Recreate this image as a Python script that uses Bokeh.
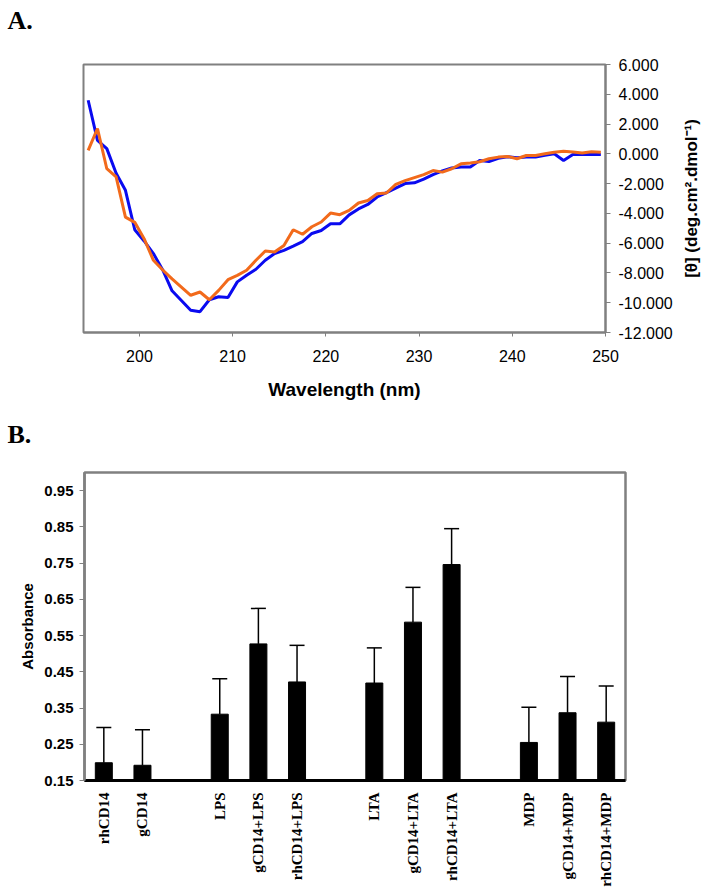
import math
from bokeh.plotting import figure
from bokeh.models import ColumnDataSource, Range1d, FixedTicker, Whisker, TeeHead
from bokeh.layouts import column, row
from bokeh.embed import file_html
from bokeh.resources import INLINE

# ---------------- Panel A data ----------------
wavelength = [194.5, 195.5, 196.5, 197.5, 198.5, 199.5, 200.5, 201.5, 202.5, 203.5,
              204.5, 205.5, 206.5, 207.5, 208.5, 209.5, 210.5, 211.5, 212.5, 213.5,
              214.5, 215.5, 216.5, 217.5, 218.5, 219.5, 220.5, 221.5, 222.5, 223.5,
              224.5, 225.5, 226.5, 227.5, 228.5, 229.5, 230.5, 231.5, 232.5, 233.5,
              234.5, 235.5, 236.5, 237.5, 238.5, 239.5, 240.5, 241.5, 242.5, 243.5,
              244.5, 245.5, 246.5, 247.5, 248.5, 249.5]
blue_series = [3600, 900, 350, -1300, -2450, -5100, -5850, -6700, -7800, -9200,
               -9850, -10500, -10600, -9800, -9600, -9650, -8600, -8150, -7750, -7150,
               -6700, -6480, -6200, -5900, -5350, -5150, -4700, -4700, -4100, -3700,
               -3400, -2900, -2600, -2300, -2000, -1950, -1700, -1400, -1150, -950,
               -890, -890, -450, -520, -300, -200, -260, -220, -220, -100,
               0, -450, -40, -40, -40, -40]
orange_series = [230, 1700, -1000, -1550, -4250, -4600, -5700, -7150, -7800, -8400,
                 -8950, -9500, -9280, -9800, -9170, -8450, -8160, -7820, -7150, -6530,
                 -6590, -6150, -5100, -5400, -4900, -4580, -3980, -4090, -3800, -3300,
                 -3130, -2680, -2630, -2050, -1800, -1600, -1400, -1120, -1230, -1000,
                 -670, -620, -530, -330, -220, -175, -330, -110, -110, 0,
                 110, 180, 120, 50, 140, 100]
x_ticks_a = [200, 210, 220, 230, 240, 250]
y_ticks_a = [-12000, -10000, -8000, -6000, -4000, -2000, 0, 2000, 4000, 6000]
y_tick_labels_a = ["-12.000", "-10.000", "-8.000", "-6.000", "-4.000", "-2.000",
                   "0.000", "2.000", "4.000", "6.000"]

# ---------------- Panel B data ----------------
bar_labels = ["rhCD14", "gCD14", "LPS", "gCD14+LPS", "rhCD14+LPS",
              "LTA", "gCD14+LTA", "rhCD14+LTA", "MDP", "gCD14+MDP", "rhCD14+MDP"]
bar_slots = [0, 1, 3, 4, 5, 7, 8, 9, 11, 12, 13]
absorbance = [0.199, 0.192, 0.333, 0.527, 0.422, 0.419, 0.587, 0.746, 0.255, 0.337, 0.311]
abs_error = [0.097, 0.098, 0.098, 0.098, 0.101, 0.097, 0.096, 0.099, 0.097, 0.100, 0.100]
y_ticks_b = [0.15, 0.25, 0.35, 0.45, 0.55, 0.65, 0.75, 0.85, 0.95]
y_tick_labels_b = ["0.15", "0.25", "0.35", "0.45", "0.55", "0.65", "0.75", "0.85", "0.95"]

SANS = "Liberation Sans"
SERIF = "Liberation Serif"
GREY = "#808080"


def header(text, height, top):
    """A blank strip whose only content is a bold panel letter (as its title)."""
    h = figure(width=719, height=height, output_backend="svg", toolbar_location=None,
               x_range=Range1d(0, 1), y_range=Range1d(0, 1),
               min_border_left=84, min_border_right=0, min_border_top=top, min_border_bottom=0)
    h.outline_line_color = None
    h.background_fill_color = "white"
    h.border_fill_color = "white"
    h.grid.visible = False
    h.axis.visible = False
    h.title.text = text
    h.title.align = "left"
    h.title.offset = -77
    h.title.standoff = 0
    h.title.text_font = SERIF
    h.title.text_font_style = "bold"
    h.title.text_font_size = "26px"
    h.title.text_color = "black"
    return h


hdr_a = header("A.", 40, 34)
hdr_b = header("B.", 44, 36)

# ---------------- Panel A ----------------
pa = figure(width=678, height=372, output_backend="svg", toolbar_location=None,
            x_range=Range1d(194, 250), y_range=Range1d(-12000, 6000),
            y_axis_location="right",
            min_border_left=83, min_border_right=73, min_border_top=24, min_border_bottom=80)
pa.background_fill_color = "white"
pa.border_fill_color = "white"
pa.outline_line_color = GREY
pa.outline_line_width = 2
pa.grid.visible = False

pa.line(wavelength, blue_series, line_color="#0A0AF0", line_width=3)
pa.line(wavelength, orange_series, line_color="#F26A1B", line_width=3)

xa = pa.xaxis[0]
xa.ticker = FixedTicker(ticks=x_ticks_a)
xa.axis_line_color = GREY
xa.axis_line_width = 2
xa.major_tick_line_color = GREY
xa.major_tick_in = 0
xa.major_tick_out = 4
xa.minor_tick_line_color = None
xa.major_label_standoff = 13
xa.major_label_text_font = SANS
xa.major_label_text_font_size = "16px"
xa.major_label_text_color = "black"
xa.axis_label = "Wavelength (nm)"
xa.axis_label_text_font = SANS
xa.axis_label_text_font_style = "bold"
xa.axis_label_text_font_size = "19px"
xa.axis_label_text_color = "black"
xa.axis_label_standoff = 14

ya = pa.yaxis[0]
ya.ticker = FixedTicker(ticks=y_ticks_a)
ya.major_label_overrides = {t: s for t, s in zip(y_ticks_a, y_tick_labels_a)}
ya.axis_line_color = GREY
ya.axis_line_width = 2
ya.major_tick_line_color = GREY
ya.major_tick_in = 0
ya.major_tick_out = 5
ya.minor_tick_line_color = None
ya.major_label_standoff = 8
ya.major_label_text_font = SANS
ya.major_label_text_font_size = "16px"
ya.major_label_text_color = "black"

# Narrow companion figure carrying the rotated right-hand axis title of panel A
pa_lab = figure(width=41, height=372, output_backend="svg", toolbar_location=None,
                x_range=Range1d(0, 1), y_range=Range1d(-12000, 6000),
                min_border_left=0, min_border_right=0, min_border_top=24, min_border_bottom=80)
pa_lab.outline_line_color = None
pa_lab.background_fill_color = "white"
pa_lab.border_fill_color = "white"
pa_lab.grid.visible = False
pa_lab.xaxis.visible = False
yl = pa_lab.yaxis[0]
yl.ticker = FixedTicker(ticks=[])
yl.axis_line_color = None
yl.major_tick_line_color = None
yl.minor_tick_line_color = None
yl.axis_label = "[θ] (deg.cm².dmol⁻¹)"
yl.axis_label_text_font = SANS
yl.axis_label_text_font_style = "bold"
yl.axis_label_text_font_size = "17px"
yl.axis_label_text_color = "black"
yl.axis_label_standoff = 0

# ---------------- Panel B ----------------
pb = figure(width=719, height=433, output_backend="svg", toolbar_location=None,
            x_range=Range1d(-0.5, 13.5), y_range=Range1d(0.15, 1.0),
            min_border_left=84, min_border_right=94, min_border_top=16, min_border_bottom=108)
pb.background_fill_color = "white"
pb.border_fill_color = "white"
pb.outline_line_color = GREY
pb.outline_line_width = 2.5
pb.grid.visible = False

src = ColumnDataSource(dict(x=bar_slots, top=absorbance,
                            upper=[a + e for a, e in zip(absorbance, abs_error)]))
pb.add_layout(Whisker(source=src, base="x", lower="top", upper="upper",
                      line_color="black", line_width=1.5,
                      upper_head=TeeHead(size=15, line_color="black", line_width=1.5),
                      lower_head=None))
pb.vbar(x="x", top="top", bottom=0.15, width=0.44, source=src,
        fill_color="black", line_color="black")

xb = pb.xaxis[0]
xb.ticker = FixedTicker(ticks=bar_slots)
xb.major_label_overrides = {s: l for s, l in zip(bar_slots, bar_labels)}
xb.major_label_orientation = math.pi / 2
xb.axis_line_color = "black"
xb.axis_line_width = 3
xb.major_tick_line_color = None
xb.major_tick_in = 0
xb.major_tick_out = 0
xb.minor_tick_line_color = None
xb.major_label_standoff = 12
xb.major_label_text_font = SERIF
xb.major_label_text_font_style = "bold"
xb.major_label_text_font_size = "15px"
xb.major_label_text_color = "black"

yb = pb.yaxis[0]
yb.ticker = FixedTicker(ticks=y_ticks_b)
yb.major_label_overrides = {t: s for t, s in zip(y_ticks_b, y_tick_labels_b)}
yb.axis_line_color = GREY
yb.axis_line_width = 2.5
yb.major_tick_line_color = GREY
yb.major_tick_in = 0
yb.major_tick_out = 5
yb.minor_tick_line_color = None
yb.major_label_standoff = 6
yb.major_label_text_font = SANS
yb.major_label_text_font_style = "bold"
yb.major_label_text_font_size = "15px"
yb.major_label_text_color = "black"
yb.axis_label = "Absorbance"
yb.axis_label_text_font = SANS
yb.axis_label_text_font_style = "bold"
yb.axis_label_text_font_size = "15px"
yb.axis_label_text_color = "black"
yb.axis_label_standoff = 5

layout = column(hdr_a, row(pa, pa_lab, spacing=0), hdr_b, pb, spacing=0)
open("out.html", "w").write(file_html(layout, INLINE))
